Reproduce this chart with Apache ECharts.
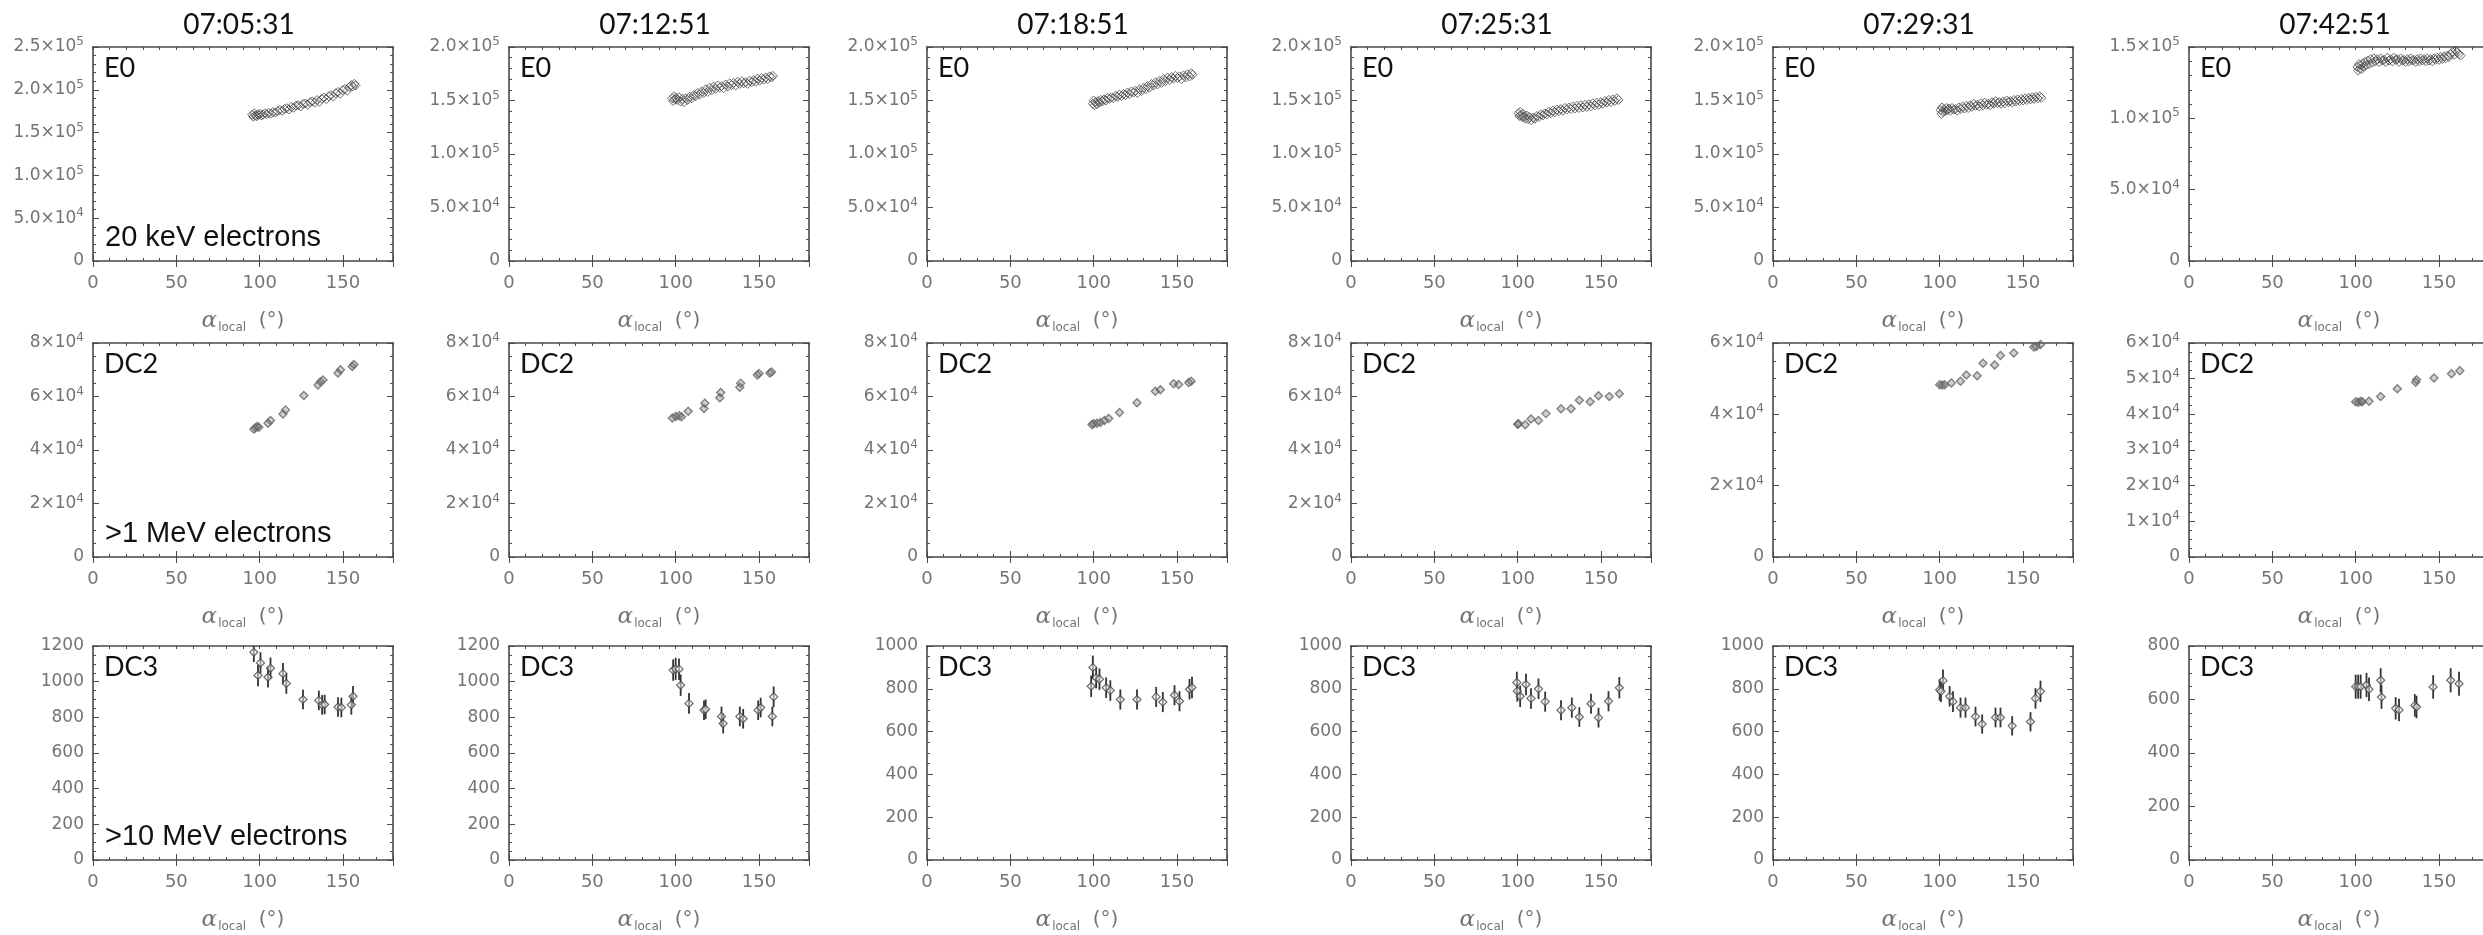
<!DOCTYPE html>
<html>
<head>
<meta charset="utf-8">
<script src="https://cdn.jsdelivr.net/npm/echarts@6/dist/echarts.min.js"></script>
<style>
  html, body { margin: 0; padding: 0; background: #ffffff; }
  #chart { width: 2483px; height: 935px; }
</style>
</head>
<body>
<div id="chart"></div>
<script>
// ---- labels ----
const times = ['07:05:31', '07:12:51', '07:18:51', '07:25:31', '07:29:31', '07:42:51'];
const channels = ['E0', 'DC2', 'DC3'];
const energies = ['20 keV electrons', '>1 MeV electrons', '>10 MeV electrons'];
const xTickLabels = ['0', '50', '100', '150'];

// ---- y ranges per panel (row x column) ----
const e0Max = [250000, 200000, 200000, 200000, 200000, 150000];
const e0Step = [50000, 50000, 50000, 50000, 50000, 50000];
const dc2Max = [80000, 80000, 80000, 80000, 60000, 60000];
const dc2Step = [20000, 20000, 20000, 20000, 20000, 10000];
const dc3Max = [1200, 1200, 1000, 1000, 1000, 800];
const dc3Step = [200, 200, 200, 200, 200, 200];

// ---- E0, 20 keV electrons: [alpha_local (deg), flux] ----
const e0_070531 = [[95.5,171000],[96.2,168500],[96.8,172500],[97.5,170000],[98.1,169000],[98.8,171500],[99.5,170500],[100.3,172000],[101.2,170000],[102.0,171000],[103.1,172500],[104.3,171500],[105.5,173000],[106.8,172000],[108.0,174000],[109.4,173500],[110.8,175000],[112.1,176500],[113.5,175500],[114.9,177500],[116.3,178500],[117.6,177000],[119.0,180000],[120.4,179000],[121.8,181500],[123.2,182000],[124.6,180500],[126.0,183500],[127.4,184000],[128.8,182500],[130.2,185500],[131.6,186500],[133.0,185000],[134.4,188000],[135.8,186000],[137.2,189500],[138.6,191000],[140.0,189000],[141.4,192500],[142.8,194000],[144.2,192000],[145.6,196000],[147.0,197500],[148.4,195500],[149.8,199500],[151.2,201000],[152.6,199000],[154.0,203500],[155.0,205500],[156.0,204000],[156.8,207000],[157.5,205000]];
const e0_071251 = [[98,152000],[98.5,149500],[99,154000],[99.6,151000],[100.2,152500],[101,150500],[102,153000],[103,149000],[104,151500],[105,148500],[106,152000],[107.2,150500],[108.4,153500],[109.6,152000],[110.8,155000],[112,154000],[113.2,157000],[114.4,155500],[115.6,158500],[116.8,157000],[118,160500],[119.2,158000],[120.4,162000],[121.6,159500],[122.8,163000],[124,161000],[125.2,164000],[126.4,162000],[127.6,163500],[128.8,161500],[130,165000],[131.2,163000],[132.4,166000],[133.6,164500],[134.8,166500],[136,164000],[137.2,167500],[138.4,165500],[139.6,168000],[140.8,166000],[142,167000],[143.2,165500],[144.4,168500],[145.6,167000],[146.8,169000],[148,167500],[149.2,170500],[150.4,168500],[151.6,171000],[152.8,169500],[154,171500],[155.2,170000],[156.4,172500],[157.5,171500],[158.3,173000]];
const e0_071851 = [[99.5,147000],[100,150000],[100.6,145500],[101.2,148500],[101.9,146500],[102.6,149500],[103.4,148000],[104.3,150500],[105.2,149000],[106.2,151000],[107.3,150000],[108.4,152500],[109.5,151500],[110.7,153000],[111.9,152000],[113.1,154500],[114.3,153500],[115.5,155500],[116.7,154000],[117.9,156000],[119.1,155000],[120.3,157500],[121.5,156000],[122.7,158500],[123.9,157500],[125.1,159000],[126.3,157000],[127.5,160500],[128.7,159000],[129.9,162000],[131.1,160500],[132.3,163500],[133.5,162000],[134.7,165500],[135.9,164000],[137.1,167000],[138.3,165000],[139.5,168500],[140.7,166500],[141.9,170000],[143.1,168000],[144.3,171500],[145.5,169000],[146.7,172000],[147.9,170500],[149.1,173000],[150.3,171000],[151.5,172500],[152.7,170000],[153.9,173500],[155.1,171500],[156.3,174500],[157.5,172500],[158.5,175500],[159.3,174000]];
const e0_072531 = [[100.5,138000],[101,135500],[101.5,139500],[102,136500],[102.6,134500],[103.2,137500],[103.9,135000],[104.6,133000],[105.4,136000],[106.3,132500],[107.2,134500],[108.2,131500],[109.2,134000],[110.3,133000],[111.5,135500],[112.7,134500],[113.9,137000],[115.1,136000],[116.3,138000],[117.5,137000],[118.7,139500],[119.9,138000],[121.1,140500],[122.3,139000],[123.5,141500],[124.7,140000],[125.9,142000],[127.1,140500],[128.3,143000],[129.5,141500],[130.7,143500],[131.9,142000],[133.1,144500],[134.3,142500],[135.5,145000],[136.7,143000],[137.9,145500],[139.1,143500],[140.3,146000],[141.5,144000],[142.7,146500],[143.9,144500],[145.1,147500],[146.3,145500],[147.5,148000],[148.7,146000],[149.9,148500],[151.1,147000],[152.3,149500],[153.5,148000],[154.7,150500],[155.9,148500],[157.1,151000],[158.3,149500],[159.5,152000],[160.5,150500]];
const e0_072931 = [[100.5,141000],[101,137500],[101.4,143500],[102,139500],[102.6,142000],[103.3,140000],[104,143000],[104.8,141000],[105.6,142500],[106.5,140500],[107.4,143000],[108.4,141500],[109.4,142000],[110.5,140500],[111.6,143500],[112.7,142000],[113.8,144500],[114.9,142500],[116,145000],[117.1,143000],[118.2,145500],[119.3,144000],[120.4,147000],[121.5,145000],[122.6,146000],[123.7,144500],[124.8,147500],[125.9,145500],[127,148000],[128.1,146000],[129.2,147000],[130.3,145500],[131.4,148500],[132.5,147000],[133.6,149500],[134.7,147500],[135.8,148500],[136.9,147000],[138,149000],[139.1,147500],[140.2,150000],[141.3,148500],[142.4,149500],[143.5,148000],[144.6,150500],[145.7,149000],[146.8,151000],[147.9,149500],[149,151500],[150.1,150000],[151.2,152000],[152.3,150500],[153.4,152500],[154.5,151000],[155.6,153000],[156.7,151500],[157.8,153500],[158.9,152000],[160,154000],[161,152500]];
const e0_074251 = [[101,136000],[101.5,133500],[102,138000],[102.5,135000],[103,137000],[103.6,134500],[104.2,138500],[104.9,136500],[105.6,139500],[106.4,137500],[107.2,140500],[108,138000],[109,141500],[110,139000],[111,142000],[112,140000],[113,141500],[114,139500],[115,142000],[116,140500],[117,141000],[118,139500],[119,142500],[120,140500],[121,141500],[122,140000],[123,142500],[124,141000],[125,141500],[126,139500],[127,142000],[128,140500],[129,141000],[130,139500],[131,141500],[132,140000],[133,142000],[134,140500],[135,141000],[136,139500],[137,141500],[138,140000],[139,142000],[140,140500],[141,141500],[142,140000],[143,142000],[144,140500],[145,141500],[146,140000],[147,142000],[148,141000],[149,142500],[150,141000],[151,143000],[152,141500],[153,143500],[154,142000],[155,144000],[156,143000],[157,145000],[158,146500],[159,144500],[160,147500],[161,146000],[162,145000],[163,144000]];

// ---- DC2, >1 MeV electrons ----
const dc2_070531 = [[96.5,47800],[97.5,48300],[98.5,48800],[99.5,48500],[105,50000],[106.5,51000],[114,53500],[115.5,55000],[126.5,60400],[135,64300],[136.5,65500],[138,66200],[147,68800],[148.5,70000],[155.5,71200],[156.5,72000]];
const dc2_071251 = [[98,52000],[100,52500],[102,52800],[103.5,52400],[107.5,54500],[117,55500],[117.5,57500],[126.5,59500],[127,61500],[138.5,63500],[139,65000],[149,68000],[150,68600],[156.5,68800],[157.5,69200]];
const dc2_071851 = [[99,49500],[100,49800],[102,50000],[104,50300],[106.5,51000],[109,51800],[115.5,54000],[126,57700],[137,62000],[140,62500],[148,64800],[151,64500],[157,65200],[158.5,65700]];
const dc2_072531 = [[100,49600],[100.5,49800],[104.5,49400],[108,51600],[112.5,51000],[117,53600],[126,55400],[132,55400],[137,58600],[143.5,58000],[148.5,60300],[155,60000],[161,61000]];
const dc2_072931 = [[100,48300],[101.5,48200],[103,48300],[107,48800],[112.5,49300],[116,51000],[122.5,50800],[126,54300],[133,53800],[136.5,56500],[144.5,57200],[156.5,58900],[158,59000],[160.5,59600]];
const dc2_074251 = [[100,43500],[101.5,43400],[103,43600],[104,43500],[108,43700],[115,45000],[125,47200],[136,49000],[136.5,49700],[147,50200],[157.5,51400],[162.5,52200]];

// ---- DC3, >10 MeV electrons: [alpha_local, flux, error] ----
const dc3_070531 = [[96.5,1165,55],[99,1035,60],[100.5,1105,60],[105,1025,58],[106.5,1075,60],[114,1045,60],[116,990,58],[126,900,55],[135.5,895,55],[137.5,870,55],[139,872,55],[147,858,55],[149,855,55],[155,870,55],[156,918,58]];
const dc3_071251 = [[98.5,1065,60],[100,1072,62],[102,1070,60],[103,980,60],[108,878,58],[117,840,55],[118,845,55],[127.5,805,55],[128.5,765,55],[138.5,805,55],[140.5,792,55],[149.5,840,55],[151,855,55],[158,805,55],[158.8,915,58]];
const dc3_071851 = [[98.5,812,50],[99.5,900,55],[101.5,852,50],[103.5,845,50],[107.5,805,48],[110,792,48],[116,750,47],[126,750,47],[137.5,762,47],[141.5,738,47],[148.5,770,47],[151.5,742,47],[157.5,798,48],[159,806,50]];
const dc3_072531 = [[99.5,830,50],[99.8,790,50],[101.5,765,50],[105,820,50],[108,755,48],[112.5,800,48],[116.5,740,47],[126,700,47],[132.5,712,47],[137,668,46],[144,730,47],[148.5,665,46],[154.5,742,47],[161,805,50]];
const dc3_072931 = [[100,795,50],[100.8,788,50],[102,838,52],[106,765,48],[108,740,48],[112.5,712,47],[115.5,712,47],[121.5,670,46],[125.5,635,45],[133.5,666,46],[136.5,666,46],[143.5,627,45],[154.5,646,45],[157.5,755,48],[160.5,788,50]];
const dc3_074251 = [[100,648,45],[101.5,648,45],[103,648,45],[106.5,654,45],[108,638,44],[115,672,45],[115.5,609,44],[124,567,42],[126,561,42],[135.5,578,42],[136.5,572,42],[146.5,647,44],[157,672,45],[162,659,45]];

const e0Sets = [e0_070531, e0_071251, e0_071851, e0_072531, e0_072931, e0_074251];
const dc2Sets = [dc2_070531, dc2_071251, dc2_071851, dc2_072531, dc2_072931, dc2_074251];
const dc3Sets = [dc3_070531, dc3_071251, dc3_071851, dc3_072531, dc3_072931, dc3_074251];

// ---- page layout (pixels) ----
const colLeft = [93, 509, 927, 1351, 1773, 2189];
const rowTop = [47, 343, 646];
const plotW = 300, plotH = 214;

const axisColor = '#4a4a4a';
const labelColor = '#747474';
const tickFont = 'DejaVu Sans, Verdana, sans-serif';

// y tick label: mantissa x 10^exp with a raised exponent
function sciLabel(v, digits) {
  if (v === 0) return '{m|0}';
  const e = Math.floor(Math.log10(v) + 1e-9);
  const m = v / Math.pow(10, e);
  return '{m|' + m.toFixed(digits) + '×10}{e|' + e + '}';
}

const yRich = {
  m: { fontSize: 17, color: labelColor, fontFamily: tickFont },
  e: { fontSize: 12, color: labelColor, fontFamily: tickFont, padding: [0, 0, 10, 0] }
};
const nameRich = {
  a: { fontSize: 23, color: labelColor, fontFamily: 'DejaVu Serif, serif', fontStyle: 'italic' },
  s: { fontSize: 12, color: labelColor, fontFamily: tickFont, padding: [14, 0, 0, 1] },
  p: { fontSize: 20, color: labelColor, fontFamily: tickFont }
};

const grids = [], xAxes = [], yAxes = [], series = [], graphics = [];

const rows = [
  { sets: e0Sets, max: e0Max, step: e0Step, minor: 5, fmt: v => sciLabel(v, 1) },
  { sets: dc2Sets, max: dc2Max, step: dc2Step, minor: 4, fmt: v => sciLabel(v, 0) },
  { sets: dc3Sets, max: dc3Max, step: dc3Step, minor: 4, fmt: v => '{m|' + v + '}' }
];

rows.forEach((row, r) => {
  for (let c = 0; c < 6; c++) {
    const g = grids.length;
    grids.push({ left: colLeft[c], top: rowTop[r], width: plotW, height: plotH, outerBoundsMode: 'none', containLabel: false });

    const lineStyle = { color: axisColor, width: 1.6 };
    const xi = xAxes.length;
    // bottom axis: 10-degree ticks with labels every 50
    xAxes.push({
      gridIndex: g, type: 'value', min: 0, max: 180, interval: 10, position: 'bottom',
      axisLine: { show: true, onZero: false, lineStyle },
      axisTick: { show: true, inside: true, length: 3, lineStyle: { color: axisColor, width: 1 } },
      axisLabel: {
        show: true, margin: 13, color: labelColor, fontSize: 18, fontFamily: tickFont,
        formatter: v => (v % 50 === 0 && v < 180) ? xTickLabels[v / 50] : ''
      },
      splitLine: { show: false },
      name: '{a|α}{s|local}{p|  (°)}', nameLocation: 'middle', nameGap: 47,
      nameTextStyle: { rich: nameRich }
    });
    // bottom axis: longer ticks every 50
    xAxes.push({
      gridIndex: g, type: 'value', min: 0, max: 180, interval: 50, position: 'bottom',
      axisLine: { show: false }, axisLabel: { show: false }, splitLine: { show: false },
      axisTick: { show: true, inside: true, length: 6, lineStyle: { color: axisColor, width: 1 } }
    });
    // mirrored top axis
    xAxes.push({
      gridIndex: g, type: 'value', min: 0, max: 180, interval: 10, position: 'top',
      axisLine: { show: true, onZero: false, lineStyle }, axisLabel: { show: false }, splitLine: { show: false },
      axisTick: { show: true, inside: true, length: 3, lineStyle: { color: axisColor, width: 1 } }
    });
    xAxes.push({
      gridIndex: g, type: 'value', min: 0, max: 180, interval: 50, position: 'top',
      axisLine: { show: false }, axisLabel: { show: false }, splitLine: { show: false },
      axisTick: { show: true, inside: true, length: 6, lineStyle: { color: axisColor, width: 1 } }
    });

    const yi = yAxes.length;
    const yCommon = {
      gridIndex: g, type: 'value', min: 0, max: row.max[c], interval: row.step[c],
      axisLine: { show: true, onZero: false, lineStyle },
      axisTick: { show: true, inside: true, length: 6, lineStyle: { color: axisColor, width: 1 } },
      minorTick: { show: true, splitNumber: row.minor, length: 3, lineStyle: { color: axisColor, width: 1 } },
      splitLine: { show: false }, minorSplitLine: { show: false }
    };
    yAxes.push(Object.assign({}, yCommon, {
      position: 'left',
      axisLabel: { show: true, margin: 9, formatter: row.fmt, rich: yRich }
    }));
    yAxes.push(Object.assign({}, yCommon, { position: 'right', axisLabel: { show: false } }));

    const data = row.sets[c];
    if (r === 2) {
      // vertical error bars
      series.push({
        type: 'custom', xAxisIndex: xi, yAxisIndex: yi, data: data, encode: { x: 0, y: 1 },
        silent: true, z: 2,
        renderItem: (params, api) => {
          const x = api.value(0), y = api.value(1), e = api.value(2);
          const p0 = api.coord([x, y - e]);
          const p1 = api.coord([x, y + e]);
          const cs = params.coordSys;
          const top = Math.max(p1[1], cs.y);
          const bot = Math.min(p0[1], cs.y + cs.height);
          return {
            type: 'line',
            shape: { x1: p0[0], y1: bot, x2: p0[0], y2: top },
            style: { stroke: '#333333', lineWidth: 1.8 }
          };
        }
      });
    }
    series.push({
      type: 'scatter', xAxisIndex: xi, yAxisIndex: yi,
      data: r === 2 ? data.map(d => [d[0], d[1]]) : data,
      symbol: 'diamond',
      symbolSize: r === 0 ? 9 : 8,
      z: 3,
      itemStyle: r === 0
        ? { color: 'rgba(255,255,255,0)', borderColor: '#4a4a4a', borderWidth: 1 }
        : r === 1
          ? { color: 'rgba(110,110,110,0.4)', borderColor: '#666666', borderWidth: 1.4 }
          : { color: 'rgba(255,255,255,0.6)', borderColor: '#444444', borderWidth: 1.2 }
    });

    // channel tag inside the panel
    graphics.push({
      type: 'text', x: colLeft[c] + 11, y: rowTop[r] + 8,
      style: { text: channels[r], fontSize: 27, fontFamily: 'Lato, Open Sans, sans-serif', fill: '#111', align: 'left', verticalAlign: 'top' }
    });
  }
  // energy label in the first column
  graphics.push({
    type: 'text', x: colLeft[0] + 12, y: rowTop[r] + plotH - 9,
    style: { text: energies[r], fontSize: 29, fontFamily: 'Liberation Sans, Arial, sans-serif', fill: '#111', align: 'left', verticalAlign: 'bottom' }
  });
});

// time headers above each column
times.forEach((t, c) => {
  graphics.push({
    type: 'text', x: colLeft[c] + plotW / 2 - 4, y: 25,
    style: { text: t, fontSize: 28, fontFamily: 'Lato, Open Sans, sans-serif', fill: '#111', align: 'center', verticalAlign: 'middle' }
  });
});

const chart = echarts.init(document.getElementById('chart'), null, { renderer: 'canvas', width: 2483, height: 935 });
chart.setOption({
  backgroundColor: '#ffffff',
  animation: false,
  grid: grids,
  xAxis: xAxes,
  yAxis: yAxes,
  series: series,
  graphic: graphics
});
</script>
</body>
</html>
